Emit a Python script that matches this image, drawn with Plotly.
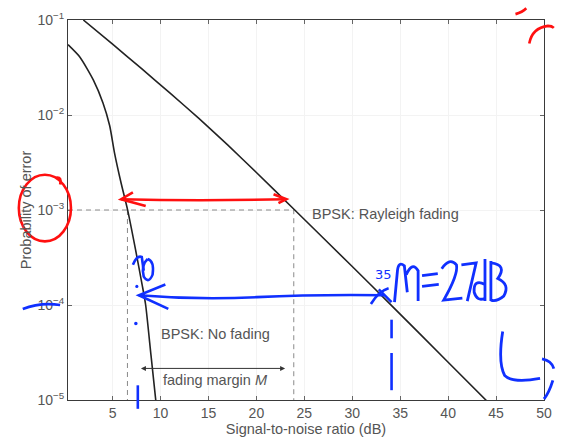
import plotly.graph_objects as go
import math

# ---------------- data ----------------
snr_nofade = [0.35, 1.6, 3.0, 4.0, 4.7, 5.2, 5.9, 6.55, 7.4, 8.1, 8.45, 9.0, 9.55]
pe_nofade = [0.055, 0.0406, 0.0233, 0.0134, 0.0077, 0.0040, 0.0019, 0.00102,
             0.00038, 0.00016, 0.0001, 3.0e-5, 9.0e-6]

snr_rayleigh = [1.95, 5.0, 8.0, 11.0, 14.0, 17.0, 20.0, 24.0, 30.0, 34.0, 40.0, 44.2]
pe_rayleigh = [0.1, 0.0556, 0.0309, 0.0170, 0.0092, 0.00484, 0.00248, 0.001,
               0.000254, 0.000101, 2.5e-5, 9.4e-6]

target_pe = 1e-3
snr_nofade_at_target = 6.55
snr_rayleigh_at_target = 23.9
margin_arrow_x = [7.8, 23.0]
margin_arrow_pe = 2.15e-5

x_ticks = [5, 10, 15, 20, 25, 30, 35, 40, 45, 50]
y_tickvals = [1e-5, 1e-4, 1e-3, 1e-2, 1e-1]
y_ticktext = ["10<sup>−5</sup>", "10<sup>−4</sup>", "10<sup>−3</sup>",
              "10<sup>−2</sup>", "10<sup>−1</sup>"]

# ---------------- figure geometry ----------------
W, H = 562, 445
ML, MR, MT, MB = 68, 10, 12, 45
PW, PH = W - ML - MR, H - MT - MB

TXT = "#555555"
AX = "#3a3a3a"
RED = "#ff1010"
BLUE = "#1030ff"
FS = 14.5

fig = go.Figure()

# dashed guide lines
fig.add_trace(go.Scatter(
    x=[0.35, snr_rayleigh_at_target, snr_rayleigh_at_target],
    y=[target_pe, target_pe, 1e-5],
    mode="lines", line=dict(color="#8a8a8a", width=1, dash="5px,4px"),
    hoverinfo="skip", showlegend=False))
fig.add_trace(go.Scatter(
    x=[snr_nofade_at_target, snr_nofade_at_target],
    y=[target_pe, 1e-5],
    mode="lines", line=dict(color="#8a8a8a", width=1, dash="5px,4px"),
    hoverinfo="skip", showlegend=False))

# curves
fig.add_trace(go.Scatter(x=snr_nofade, y=pe_nofade, mode="lines",
                         line=dict(color="#222222", width=1.6, shape="spline", smoothing=0.6),
                         showlegend=False))
fig.add_trace(go.Scatter(x=snr_rayleigh, y=pe_rayleigh, mode="lines",
                         line=dict(color="#222222", width=1.6, shape="spline", smoothing=0.4),
                         showlegend=False))

annots = [
    dict(x=25.6, y=math.log10(9.0e-4), text="BPSK: Rayleigh fading", xanchor="left",
         yanchor="middle", showarrow=False, font=dict(size=FS, color=TXT)),
    dict(x=9.8, y=math.log10(4.95e-5), text="BPSK: No fading", xanchor="left",
         yanchor="middle", showarrow=False, font=dict(size=FS, color=TXT)),
    dict(x=10.0, y=math.log10(1.62e-5), text="fading margin <i>M</i>", xanchor="left",
         yanchor="middle", showarrow=False, font=dict(size=FS, color=TXT)),
    # double-headed margin arrow
    dict(x=margin_arrow_x[1], y=math.log10(margin_arrow_pe),
         ax=margin_arrow_x[0], ay=math.log10(margin_arrow_pe),
         axref="x", ayref="y", xref="x", yref="y", text="", showarrow=True,
         arrowhead=2, startarrowhead=2, arrowside="end+start", arrowsize=1,
         arrowwidth=1, arrowcolor="#333333", standoff=0, startstandoff=0),
]


# ---------------- hand-drawn marks (pixel space -> paper) ----------------
def px(x, y):
    return f"{(x - ML) / PW:.5f},{(H - MB - y) / PH:.5f}"


def path(cmds):
    out = []
    for c in cmds:
        if isinstance(c, str):
            out.append(c)
        else:
            out.append(px(*c))
    return " ".join(out)


shapes = []


def stroke(cmds, color, width=2.6):
    shapes.append(dict(type="path", xref="paper", yref="paper", path=path(cmds),
                       line=dict(color=color, width=width), layer="above"))


def dot(x, y, color, r=1.6):
    shapes.append(dict(type="circle", xref="paper", yref="paper",
                       x0=(x - r - ML) / PW, x1=(x + r - ML) / PW,
                       y0=(H - MB - y - r) / PH, y1=(H - MB - y + r) / PH,
                       fillcolor=color, line=dict(color=color, width=0)))


# red: ellipse around 10^-3
shapes.append(dict(type="circle", xref="paper", yref="paper",
                   x0=(18 - ML) / PW, x1=(71 - ML) / PW,
                   y0=(H - MB - 238) / PH, y1=(H - MB - 170) / PH,
                   line=dict(color=RED, width=2.6)))
stroke(["M", (56, 173), "Q", (62, 172), (60, 180)], RED)
# red double arrow at 1e-3
stroke(["M", (122, 195), "Q", (200, 197), (290, 195)], RED)
stroke(["M", (134, 188), "L", (122, 195), "L", (147, 202)], RED)
stroke(["M", (277, 190), "L", (290, 195), "L", (282, 199)], RED)
# red arcs top right
stroke(["M", (537, 36), "Q", (540, 20), (556, 18), "Q", (560, 18), (562, 20)], RED)
stroke(["M", (523, 6), "Q", (530, 4), (534, 0)], RED)

# blue: strike through 10^-4 label
stroke(["M", (22, 307), "Q", (40, 300), (60, 303)], BLUE)
# blue long arrow at 1e-4
stroke(["M", (140, 293), "Q", (200, 298), (260, 295), "T", (390, 293)], BLUE)
stroke(["M", (167, 282), "L", (140, 293), "L", (170, 307)], BLUE)
# blue cross near Rayleigh curve
stroke(["M", (376, 302), "Q", (384, 289), (394, 286)], BLUE)
stroke(["M", (384, 287), "L", (397, 300)], BLUE)
# blue "10"-like scribble
stroke(["M", (134, 262), "Q", (138, 252), (143, 254), "L", (145, 268)], BLUE)
stroke(["M", (149, 256), "Q", (142, 262), (145, 274), "Q", (150, 282), (154, 272),
        "Q", (156, 258), (149, 256)], BLUE)
dot(138, 284, BLUE)
dot(137, 322, BLUE, r=1.8)
# blue vertical marks
stroke(["M", (397, 318), "L", (397, 337)], BLUE)
stroke(["M", (397, 352), "L", (397, 390)], BLUE)
stroke(["M", (139, 385), "L", (139, 409)], BLUE)
# "M=27dB"
stroke(["M", (400, 300), "L", (403, 268), "Q", (404, 258), (410, 263), "L", (413, 290),
        "M", (412, 272), "Q", (418, 258), (424, 268), "L", (424, 299)], BLUE, 2.8)
stroke(["M", (428, 273), "L", (444, 271), "M", (428, 284), "L", (445, 282)], BLUE, 2.8)
stroke(["M", (448, 266), "Q", (456, 254), (463, 262), "Q", (465, 272), (450, 298),
        "L", (469, 296)], BLUE, 2.8)
stroke(["M", (468, 262), "L", (483, 260), "L", (474, 299)], BLUE, 2.8)
stroke(["M", (492, 256), "L", (492, 299), "M", (492, 282), "Q", (480, 276), (481, 290),
        "Q", (484, 300), (492, 296)], BLUE, 2.8)
stroke(["M", (498, 258), "L", (498, 299), "M", (498, 260), "Q", (515, 262), (505, 276),
        "Q", (518, 282), (511, 294), "Q", (504, 300), (498, 298)], BLUE, 2.8)
# blue "L" and right bracket
stroke(["M", (510, 330), "Q", (505, 362), (512, 375), "Q", (520, 383), (548, 378)], BLUE, 2.8)
stroke(["M", (550, 358), "Q", (560, 360), (562, 368)], BLUE, 2.8)
stroke(["M", (561, 380), "Q", (557, 393), (552, 399)], BLUE, 2.8)

annots.append(dict(x=(399 - ML) / PW, y=(H - MB - 282) / PH, xref="paper", yref="paper",
                   text="35", showarrow=False, font=dict(size=13, color=BLUE,
                                                         family="DejaVu Sans")))

fig.update_layout(
    width=W, height=H,
    margin=dict(l=ML, r=MR, t=MT, b=MB, pad=0),
    paper_bgcolor="white", plot_bgcolor="white",
    font=dict(family="Liberation Sans, Arial, sans-serif", size=FS, color=TXT),
    showlegend=False,
    annotations=annots,
    shapes=shapes,
)

fig.update_xaxes(
    range=[0.35, 50], tickvals=x_ticks, ticks="inside", ticklen=4, tickcolor="#666",
    showline=True, linecolor=AX, linewidth=1, mirror="allticks",
    showgrid=True, gridcolor="#f3f3f3", zeroline=False,
    title=dict(text="Signal-to-noise ratio (dB)", standoff=4, font=dict(size=FS, color=TXT)),
    tickfont=dict(size=14, color=TXT),
)
fig.update_yaxes(
    type="log", range=[-5, -1], tickvals=y_tickvals, ticktext=y_ticktext,
    ticks="inside", ticklen=4, tickcolor="#666",
    showline=True, linecolor=AX, linewidth=1, mirror="allticks",
    showgrid=True, gridcolor="#f3f3f3", zeroline=False,
    title=dict(text="Probability of error", standoff=2, font=dict(size=FS, color=TXT)),
    tickfont=dict(size=14, color=TXT),
)

fig.write_html("out.html")
